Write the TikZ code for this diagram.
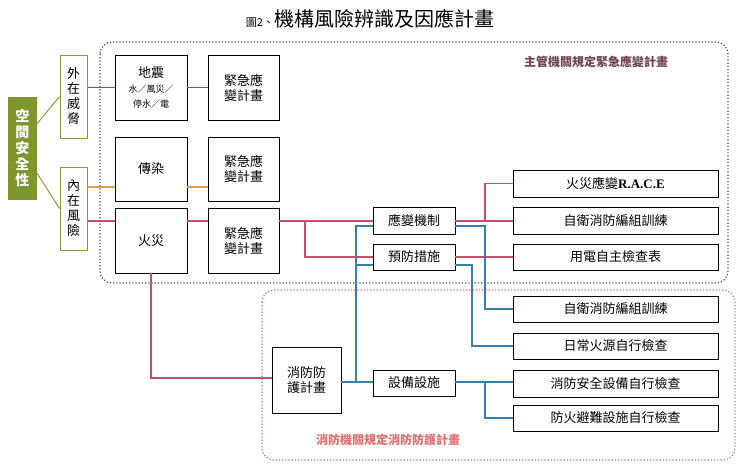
\documentclass[tikz,border=0pt]{standalone}
\usepackage{fontspec}
\setmainfont{Noto Sans CJK TC}
\newfontfamily\lat{Liberation Serif}
\definecolor{cpur}{RGB}{140,70,140}
\definecolor{corg}{RGB}{225,160,70}
\definecolor{cpnk}{RGB}{200,80,100}
\definecolor{cblu}{RGB}{60,125,170}
\definecolor{colv}{RGB}{135,155,60}
\definecolor{cgrn}{RGB}{125,150,45}
\definecolor{cdotr}{RGB}{215,110,110}
\definecolor{clt}{RGB}{110,70,75}
\definecolor{clb}{RGB}{225,110,110}
\newcommand{\smf}{\fontsize{9}{11}\selectfont}
\begin{document}
\begin{tikzpicture}[x=1pt,y=-1pt,
 bx/.style={draw=black,line width=0.9pt,fill=white,align=center,inner sep=0pt,font=\fontsize{13}{15}\selectfont},
 pur/.style={draw=cpur,line width=1.3pt},
 org/.style={draw=corg,line width=1.3pt},
 pnk/.style={draw=cpnk,line width=1.3pt},
 blu/.style={draw=cblu,line width=1.3pt},
 olv/.style={draw=colv,line width=1pt}]
\useasboundingbox (0,0) rectangle (741,474);
\node (title) at (370,19) {\fontsize{11}{12}\selectfont 圖2、\fontsize{20}{22}\selectfont 機構風險辨識及因應計畫};
\draw[dotted,line width=1.2pt,rounded corners=12pt,black!70] (100,42) rectangle (728,283);
\draw[dotted,line width=1.2pt,rounded corners=12pt,cdotr] (262,290) rectangle (735,460);
\node[text=clt,font=\fontsize{12}{14}\selectfont\bfseries] (lt) at (596,62) {主管機關規定緊急應變計畫};
\node[text=clb,font=\fontsize{12}{14}\selectfont\bfseries] (lb) at (388,440) {消防機關規定消防防護計畫};
% left
\node[fill=cgrn,text=white,minimum width=29pt,minimum height=103pt,inner sep=0pt,align=center,font=\fontsize{14}{16}\selectfont\bfseries] (sp) at (22.5,148.5) {空\\間\\安\\全\\性};
\node[bx,olv,minimum width=27pt,minimum height=83pt] (ext) at (73.5,96.5) {外\\在\\威\\脅};
\node[bx,olv,minimum width=27pt,minimum height=83pt] (int) at (73.5,208.5) {內\\在\\風\\險};
\draw[olv] (sp.east) ++(0,-25) -- (ext.west);
\draw[olv] (sp.east) ++(0,25) -- (int.west);
\node[bx,minimum width=72pt,minimum height=65pt] (eq) at (151,87.5) {地震\\\smf 水／風災／\\\smf 停水／電};
\node[bx,minimum width=71pt,minimum height=65pt] (e1) at (243.5,87.5) {緊急應\\變計畫};
\node[bx,minimum width=72pt,minimum height=64pt] (inf) at (151,169) {傳染};
\node[bx,minimum width=71pt,minimum height=64pt] (e2) at (243.5,169) {緊急應\\變計畫};
\node[bx,minimum width=72pt,minimum height=65pt] (fire) at (151,240.5) {火災};
\node[bx,minimum width=71pt,minimum height=65pt] (e3) at (243.5,240.5) {緊急應\\變計畫};
\draw[pur] (ext.east|-eq.center) -- (eq.west) (eq.east) -- (e1.west);
\draw[org] (int.east|-0,187) -- (inf.west|-0,187) (inf.east|-0,187) -- (e2.west|-0,187);
\draw[pnk] (int.east|-0,221) -- (fire.west|-0,221) (fire.east|-0,221) -- (e3.west|-0,221);
% middle
\node[bx,minimum width=82pt,minimum height=27pt] (resp) at (414,220.5) {應變機制};
\node[bx,minimum width=82pt,minimum height=26pt] (prev) at (414,257) {預防措施};
\node[bx,minimum width=69pt,minimum height=66pt] (fpp) at (306.5,380) {消防防\\護計畫};
\node[bx,minimum width=82pt,minimum height=26pt] (eqp) at (414,383) {設備設施};
% right
\node[bx,minimum width=205pt,minimum height=27pt] (r1) at (615.5,183.5) {火災應變{\lat\bfseries R.A.C.E}};
\node[bx,minimum width=205pt,minimum height=27pt] (r2) at (615.5,220.5) {自衛消防編組訓練};
\node[bx,minimum width=205pt,minimum height=26pt] (r3) at (615.5,257) {用電自主檢查表};
\node[bx,minimum width=205pt,minimum height=26pt] (r4) at (615.5,309) {自衛消防編組訓練};
\node[bx,minimum width=205pt,minimum height=26pt] (r5) at (615.5,346) {日常火源自行檢查};
\node[bx,minimum width=205pt,minimum height=27pt] (r6) at (615.5,383.5) {消防安全設備自行檢查};
\node[bx,minimum width=205pt,minimum height=26pt] (r7) at (615.5,418) {防火避難設施自行檢查};
% pink
\draw[pnk] (e3.east|-0,221) -- (resp.west|-0,221) (305,221) |- (prev.west|-0,257);
\draw[pnk] (resp.east|-0,221) -- (r2.west|-0,221) (485,221) |- (r1.west);
\draw[pnk] (prev.east) -- (r3.west);
\draw[pnk] (fire.south) -- (151,378) -- (fpp.west|-0,378);
% blue
\draw[blu] (resp.east|-0,226) -- (485,226) |- (r4.west);
\draw[blu] (prev.east|-0,265) -- (472,265) |- (r5.west);
\draw[blu] (resp.west|-0,226) -| (356,382) (prev.west|-0,265) -- (356,265);
\draw[blu] (fpp.east|-0,382) -- (eqp.west|-0,382);
\draw[blu] (eqp.east|-0,382) -- (r6.west|-0,382) (485,382) |- (r7.west);
\end{tikzpicture}
\end{document}
